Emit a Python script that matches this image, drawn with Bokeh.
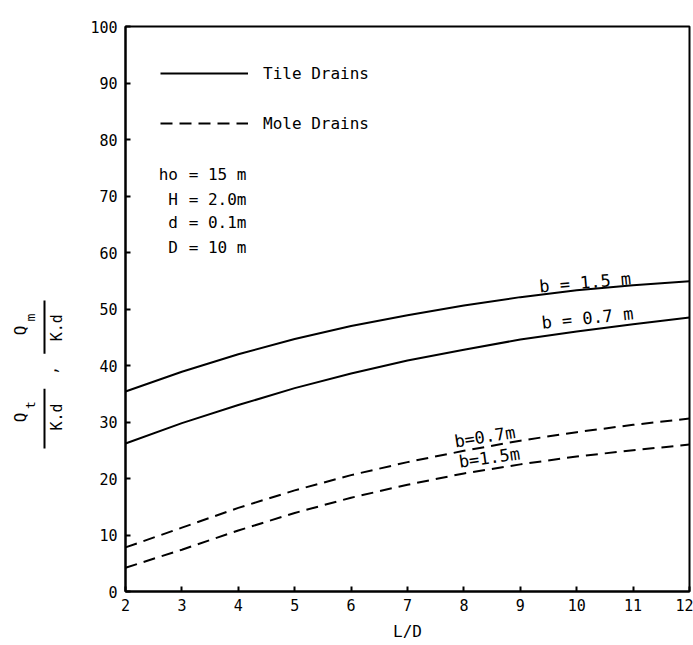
import math
from bokeh.plotting import figure
from bokeh.layouts import row
from bokeh.models import Label, Legend, LegendItem, FixedTicker
from bokeh.core.properties import value
from bokeh.embed import file_html
from bokeh.resources import INLINE

# ---- data ----
ld = [2, 3, 4, 5, 6, 7, 8, 9, 10, 11, 12]
tile_b15 = [35.4, 38.9, 42.0, 44.7, 47.0, 48.9, 50.6, 52.1, 53.3, 54.2, 54.9]
tile_b07 = [26.2, 29.8, 33.0, 36.0, 38.6, 40.9, 42.8, 44.6, 46.0, 47.3, 48.5]
mole_b07 = [7.8, 11.3, 14.8, 17.9, 20.6, 22.9, 24.9, 26.7, 28.2, 29.5, 30.6]
mole_b15 = [4.2, 7.4, 10.8, 13.9, 16.6, 18.9, 20.9, 22.5, 23.9, 25.0, 26.0]

x_ticks = [2, 3, 4, 5, 6, 7, 8, 9, 10, 11, 12]
y_ticks = [0, 10, 20, 30, 40, 50, 60, 70, 80, 90, 100]

legend_labels = ["Tile Drains", "Mole Drains"]
param_keys = ["ho", "H", "d", "D"]
param_vals = ["= 15 m", "= 2.0m", "= 0.1m", "= 10 m"]
curve_labels = ["b = 1.5 m", "b = 0.7 m", "b=0.7m", "b=1.5m"]
ylabel_parts = ["Q", "t", "K.d", ",", "Q", "m", "K.d"]

FONT = "DejaVu Sans Mono"
W, H = 693, 645
LW = 70  # width of the y-label panel

# ---------------- y-label panel (shares the chart's y scale) ----------------
pl = figure(width=LW, height=H, x_range=(0, LW), y_range=(0, 100),
            output_backend="svg", toolbar_location=None,
            min_border=0, min_border_left=0, min_border_right=0,
            min_border_top=26, min_border_bottom=54)
pl.axis.visible = False
pl.grid.visible = False
pl.outline_line_color = None
pl.background_fill_color = "white"
pl.border_fill_color = "white"

lx = [20, 30, 56, 50, 20, 30, 56]
ly = [30.8, 33.0, 30.9, 39.1, 46.2, 48.5, 46.7]
lsize = ["16px", "13px", "15px", "15px", "16px", "13px", "15px"]
pl.text(x=lx, y=ly, text=ylabel_parts, angle=math.pi / 2, text_align="center",
        text_baseline="middle", text_font=value(FONT), text_font_size=lsize,
        text_color="black")
pl.segment(x0=[44, 44], y0=[25.3, 42.1], x1=[44, 44], y1=[35.9, 51.5],
           line_color="black", line_width=2)

# ---------------- main chart ----------------
p = figure(width=W - LW, height=H, x_range=(2, 12), y_range=(0, 100),
           output_backend="svg", toolbar_location=None,
           min_border_left=125 - LW, min_border_right=4, min_border_top=26,
           min_border_bottom=54)

p.grid.visible = False
p.outline_line_color = "black"
p.outline_line_width = 2
p.background_fill_color = "white"
p.border_fill_color = "white"

for ax in (p.xaxis[0], p.yaxis[0]):
    ax.axis_line_width = 2
    ax.axis_line_color = "black"
    ax.major_tick_in = 5
    ax.major_tick_out = 0
    ax.major_tick_line_width = 2
    ax.minor_tick_line_color = None
    ax.major_label_text_font = FONT
    ax.major_label_text_font_size = "15px"
    ax.major_label_text_color = "black"

p.xaxis.ticker = FixedTicker(ticks=x_ticks)
p.yaxis.ticker = FixedTicker(ticks=y_ticks)
p.xaxis.major_label_standoff = 7
p.yaxis.major_label_standoff = 8
p.xaxis.axis_label = "L/D"
p.xaxis.axis_label_text_font = FONT
p.xaxis.axis_label_text_font_size = "16px"
p.xaxis.axis_label_text_font_style = "normal"
p.xaxis.axis_label_text_color = "black"
p.xaxis.axis_label_standoff = 8

# ---- curves ----
r_t15 = p.line(ld, tile_b15, line_color="black", line_width=2)
r_t07 = p.line(ld, tile_b07, line_color="black", line_width=2)
r_m07 = p.line(ld, mole_b07, line_color="black", line_width=2, line_dash="12 7")
r_m15 = p.line(ld, mole_b15, line_color="black", line_width=2, line_dash="12 7")

legend = Legend(items=[LegendItem(label=legend_labels[0], renderers=[r_t15]),
                       LegendItem(label=legend_labels[1], renderers=[r_m07])],
                location=(25, 448), glyph_width=88, glyph_height=20,
                label_standoff=15, spacing=30, padding=10, margin=0,
                label_text_font=FONT, label_text_font_size="16px",
                label_text_color="black",
                border_line_alpha=0, background_fill_alpha=0)
p.add_layout(legend, "center")

# ---- parameter block ----
param_y = [73.8, 69.4, 65.3, 60.9]
for k, v, y in zip(param_keys, param_vals, param_y):
    p.add_layout(Label(x=2.93, y=y, text=k, text_align="right", text_baseline="middle",
                       text_font=FONT, text_font_size="16px", text_color="black"))
    p.add_layout(Label(x=3.12, y=y, text=v, text_align="left", text_baseline="middle",
                       text_font=FONT, text_font_size="16px", text_color="black"))

# ---- curve labels ----
lab_pos = [(10.15, 54.7, 5), (10.19, 48.4, 6), (8.37, 27.4, 9), (8.45, 23.7, 8)]
lab_size = ["17px", "17px", "17px", "17px"]
for t, (x, y, a), s in zip(curve_labels, lab_pos, lab_size):
    p.add_layout(Label(x=x, y=y, text=t, text_align="center", text_baseline="middle",
                       angle=math.radians(a), text_font=FONT, text_font_size=s,
                       text_color="black"))

layout = row(pl, p, spacing=0)
open("out.html", "w").write(file_html(layout, INLINE))
